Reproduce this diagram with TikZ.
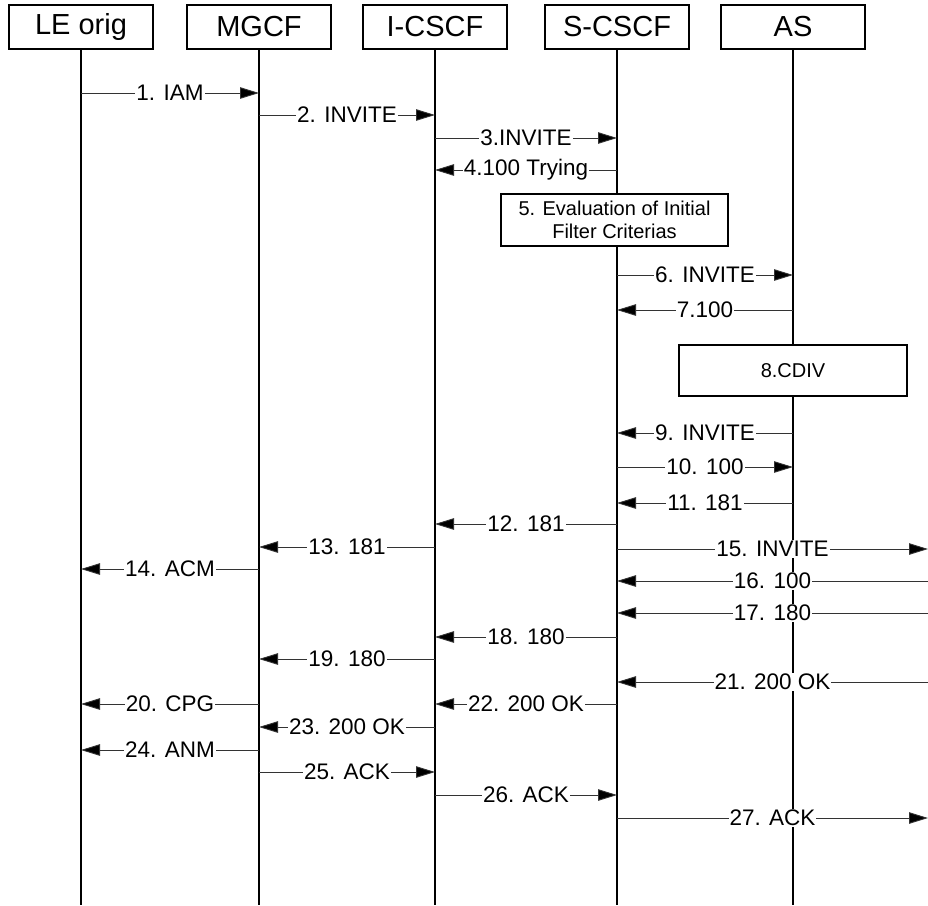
\documentclass[tikz,border=0pt]{standalone}
\usepackage{fontspec}
\setmainfont{Liberation Sans}
\usetikzlibrary{arrows.meta, positioning}

\tikzset{
  entity/.style={draw, line width=1.2pt, minimum width=144pt, minimum height=44pt, inner sep=0pt, font=\fontsize{29}{30}\selectfont},
  lifeline/.style={line width=1.3pt},
  msg/.style={line width=0.9pt, draw=black!80, -{Triangle[length=19pt, width=11.5pt, fill=black]}},
  msglabel/.style={fill=white, inner sep=1pt, text=black, font=\fontsize{22.5}{24}\selectfont},
  procbox/.style={draw, line width=1.2pt, fill=white, align=center, inner sep=0pt, font=\fontsize{20}{23}\selectfont}
}

% signal between two lifelines at height #3 (px from top)
\newcommand{\sig}[4]{%
  \draw[msg] (#1 |- 0,-#3) -- node[msglabel] {#4} (#2 |- 0,-#3);
}

\begin{document}
\begin{tikzpicture}[x=1pt, y=1pt]
  \useasboundingbox (0,0) rectangle (928,-905);
  \coordinate (bottom) at (0,-905);
  \coordinate (edge) at (928,0);

  % Entities
  \node[entity] (le)    at (81,-27)  {LE orig};
  \node[entity] (mgcf)  at (259,-27) {MGCF};
  \node[entity] (icscf) at (435,-27) {I-CSCF};
  \node[entity] (scscf) at (617,-27) {S-CSCF};
  \node[entity] (as)    at (793,-27) {AS};

  % Lifelines
  \foreach \e in {le, mgcf, icscf, scscf, as}
    \draw[lifeline] (\e.south) -- (\e.south |- bottom);

  % Local processing
  \node[procbox, minimum width=227pt, minimum height=52pt] (ifc) at (614.5,-220)
    {5. Evaluation of Initial\\Filter Criterias};
  \node[procbox, minimum width=228pt, minimum height=51pt] (cdiv) at (793,-370.5) {8.CDIV};

  % Signals
  \sig{le.south}{mgcf.south}{93}{1. IAM}
  \sig{mgcf.south}{icscf.south}{115}{2. INVITE}
  \sig{icscf.south}{scscf.south}{138}{3.INVITE}
  \sig{scscf.south}{icscf.south}{170}{4.100 Trying}
  \sig{scscf.south}{as.south}{275}{6. INVITE}
  \sig{as.south}{scscf.south}{310}{7.100}
  \sig{as.south}{scscf.south}{433}{9. INVITE}
  \sig{scscf.south}{as.south}{467}{10. 100}
  \sig{as.south}{scscf.south}{503}{11. 181}
  \sig{scscf.south}{icscf.south}{524}{12. 181}
  \sig{icscf.south}{mgcf.south}{547}{13. 181}
  \sig{scscf.south}{edge}{549}{15. INVITE}
  \sig{mgcf.south}{le.south}{569}{14. ACM}
  \sig{edge}{scscf.south}{581}{16. 100}
  \sig{edge}{scscf.south}{613}{17. 180}
  \sig{scscf.south}{icscf.south}{637}{18. 180}
  \sig{icscf.south}{mgcf.south}{659}{19. 180}
  \sig{edge}{scscf.south}{682}{21. 200 OK}
  \sig{mgcf.south}{le.south}{704}{20. CPG}
  \sig{scscf.south}{icscf.south}{704}{22. 200 OK}
  \sig{icscf.south}{mgcf.south}{727}{23. 200 OK}
  \sig{mgcf.south}{le.south}{750}{24. ANM}
  \sig{mgcf.south}{icscf.south}{772}{25. ACK}
  \sig{icscf.south}{scscf.south}{795}{26. ACK}
  \sig{scscf.south}{edge}{818}{27. ACK}
\end{tikzpicture}
\end{document}
